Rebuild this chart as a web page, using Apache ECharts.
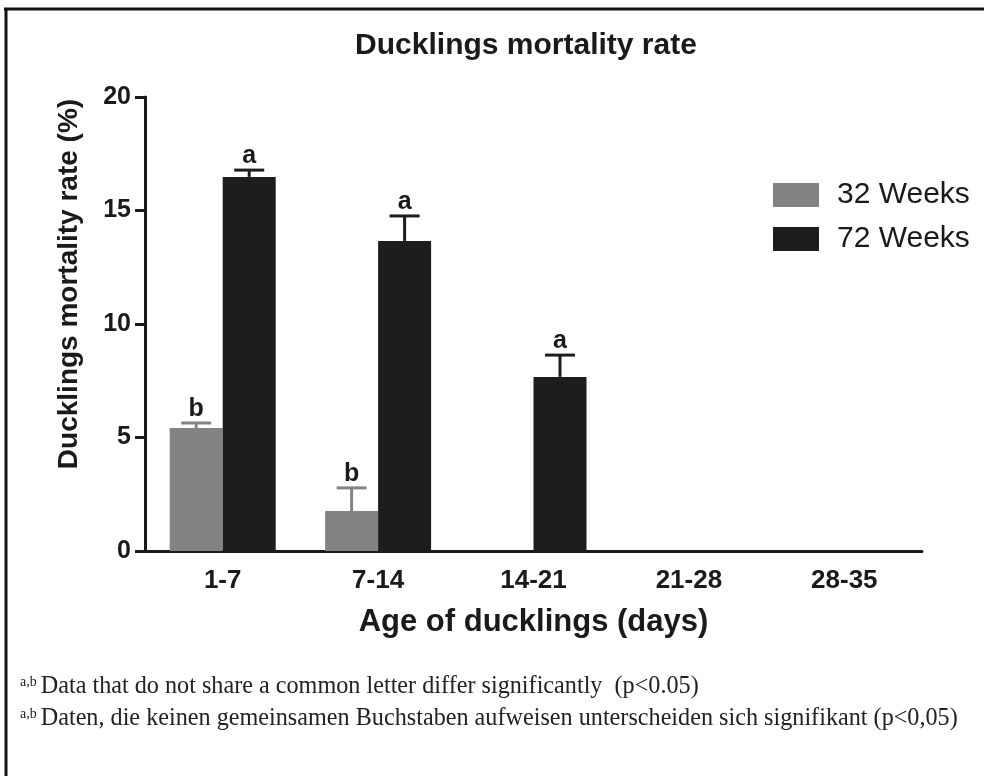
<!DOCTYPE html>
<html>
<head>
<meta charset="utf-8">
<script src="https://cdn.jsdelivr.net/npm/echarts@6/dist/echarts.min.js"></script>
<style>
  html, body { margin: 0; padding: 0; background: #ffffff; }
  #chart { width: 984px; height: 776px; }
</style>
</head>
<body>
<div id="chart"></div>
<script>
// Age classes of the ducklings (days)
const categories = ['1-7', '7-14', '14-21', '21-28', '28-35'];

// Mortality rate (%) by breeder age, with standard error
const weeks32 = [5.42, 1.76, 0, 0, 0];
const weeks32Err = [0.22, 1.02, 0, 0, 0];
const weeks72 = [16.48, 13.66, 7.67, 0, 0];
const weeks72Err = [0.3, 1.1, 0.96, 0, 0];

// Significance letters above each bar
const letters32 = ['b', 'b', '', '', ''];
const letters72 = ['a', 'a', 'a', '', ''];

const seriesNames = ['32 Weeks', '72 Weeks'];
const yTicks = { min: 0, max: 20, interval: 5 };

const GRAY = '#838383';
const BLACK = '#1d1d1d';
const BAR_W = 53;
const BOLD = 'bold';
const SANS = 'Liberation Sans, Arial, sans-serif';
const SERIF = 'Liberation Serif, Times New Roman, serif';

function errorRows(values, errs) {
  return values.map((v, i) => [i, v, errs[i]]);
}

// Upper error whisker with cap, plus the significance letter above it
function errorRenderer(offsetSign, color, letters) {
  return function (params, api) {
    const idx = api.value(0);
    const val = api.value(1);
    const err = api.value(2);
    const letter = letters[params.dataIndex];
    if (!val && !err && !letter) return null;
    const base = api.coord([idx, val]);
    const top = api.coord([idx, val + err]);
    const cx = base[0] + offsetSign * BAR_W / 2;
    const capHalf = 15;
    const children = [];
    if (err > 0) {
      children.push({
        type: 'line',
        shape: { x1: cx, y1: base[1], x2: cx, y2: top[1] },
        style: { stroke: color, lineWidth: 3 }
      });
      children.push({
        type: 'line',
        shape: { x1: cx - capHalf, y1: top[1], x2: cx + capHalf, y2: top[1] },
        style: { stroke: color, lineWidth: 3 }
      });
    }
    if (letter) {
      children.push({
        type: 'text',
        style: {
          x: cx, y: top[1] - 1,
          text: letter,
          textAlign: 'center', textVerticalAlign: 'bottom',
          font: 'bold 25px ' + SANS,
          fill: '#1a1a1a'
        }
      });
    }
    return { type: 'group', children: children };
  };
}

const chart = echarts.init(document.getElementById('chart'), null, { renderer: 'canvas' });

// superscript marker in the footnotes
const noteRich = { s: { fontSize: 14, fontFamily: 'Liberation Serif', verticalAlign: 'top', padding: [0, 4, 9, 0] } };

chart.setOption({
  backgroundColor: '#ffffff',
  animation: false,
  title: {
    text: 'Ducklings mortality rate',
    left: 521, top: 26, textAlign: 'center',
    textStyle: { fontFamily: SANS, fontWeight: BOLD, fontSize: 30, color: '#1a1a1a' }
  },
  legend: {
    data: seriesNames,
    orient: 'vertical',
    left: 768, top: 175,
    itemWidth: 46, itemHeight: 24, itemGap: 14,
    icon: 'rect',
    textStyle: { fontFamily: SANS, fontSize: 30, lineHeight: 30, color: '#1a1a1a', padding: [0, 0, 0, 13] }
  },
  grid: { left: 145, right: 62, top: 97, bottom: 225, containLabel: false },
  xAxis: {
    type: 'category',
    data: categories,
    name: 'Age of ducklings (days)',
    nameLocation: 'middle',
    nameGap: 56,
    nameTextStyle: { fontFamily: SANS, fontWeight: BOLD, fontSize: 31, color: '#1a1a1a' },
    axisLine: { lineStyle: { color: '#1a1a1a', width: 3 } },
    axisTick: { alignWithLabel: true, length: 10, lineStyle: { color: '#1a1a1a', width: 3 } },
    axisLabel: { fontFamily: SANS, fontWeight: BOLD, fontSize: 26, color: '#1a1a1a', margin: 17 }
  },
  yAxis: {
    type: 'value',
    min: yTicks.min, max: yTicks.max, interval: yTicks.interval,
    name: 'Ducklings mortality rate (%)',
    nameLocation: 'middle',
    nameGap: 62,
    nameTextStyle: { fontFamily: SANS, fontWeight: BOLD, fontSize: 28, color: '#1a1a1a', padding: [0, 0, 0, 80] },
    axisLine: { show: true, lineStyle: { color: '#1a1a1a', width: 3 } },
    axisTick: { show: true, length: 10, lineStyle: { color: '#1a1a1a', width: 3 } },
    axisLabel: { fontFamily: SANS, fontWeight: BOLD, fontSize: 25, color: '#1a1a1a', margin: 14 },
    splitLine: { show: false }
  },
  series: [
    {
      name: seriesNames[0], type: 'bar', data: weeks32,
      barWidth: BAR_W, barGap: '0%',
      itemStyle: { color: GRAY }
    },
    {
      name: seriesNames[1], type: 'bar', data: weeks72,
      barWidth: BAR_W, barGap: '0%',
      itemStyle: { color: BLACK }
    },
    {
      type: 'custom', z: 5,
      renderItem: errorRenderer(-1, GRAY, letters32),
      encode: { x: 0, y: 1 },
      data: errorRows(weeks32, weeks32Err)
    },
    {
      type: 'custom', z: 5,
      renderItem: errorRenderer(1, BLACK, letters72),
      encode: { x: 0, y: 1 },
      data: errorRows(weeks72, weeks72Err)
    }
  ],
  graphic: [
    // page frame
    { type: 'line', shape: { x1: 4, y1: 9, x2: 984, y2: 9 }, style: { stroke: '#111', lineWidth: 3 } },
    { type: 'line', shape: { x1: 6, y1: 8, x2: 6, y2: 776 }, style: { stroke: '#111', lineWidth: 3 } },
    // footnotes
    {
      type: 'text', left: 20, top: 675,
      style: {
        text: '{s|a,b}Data that do not share a common letter differ significantly  (p<0.05)',
        font: '24.2px ' + SERIF,
        fill: '#222',
        rich: noteRich
      }
    },
    {
      type: 'text', left: 20, top: 707,
      style: {
        text: '{s|a,b}Daten, die keinen gemeinsamen Buchstaben aufweisen unterscheiden sich signifikant (p<0,05)',
        font: '24.2px ' + SERIF,
        fill: '#222',
        rich: noteRich
      }
    }
  ]
});
</script>
</body>
</html>
